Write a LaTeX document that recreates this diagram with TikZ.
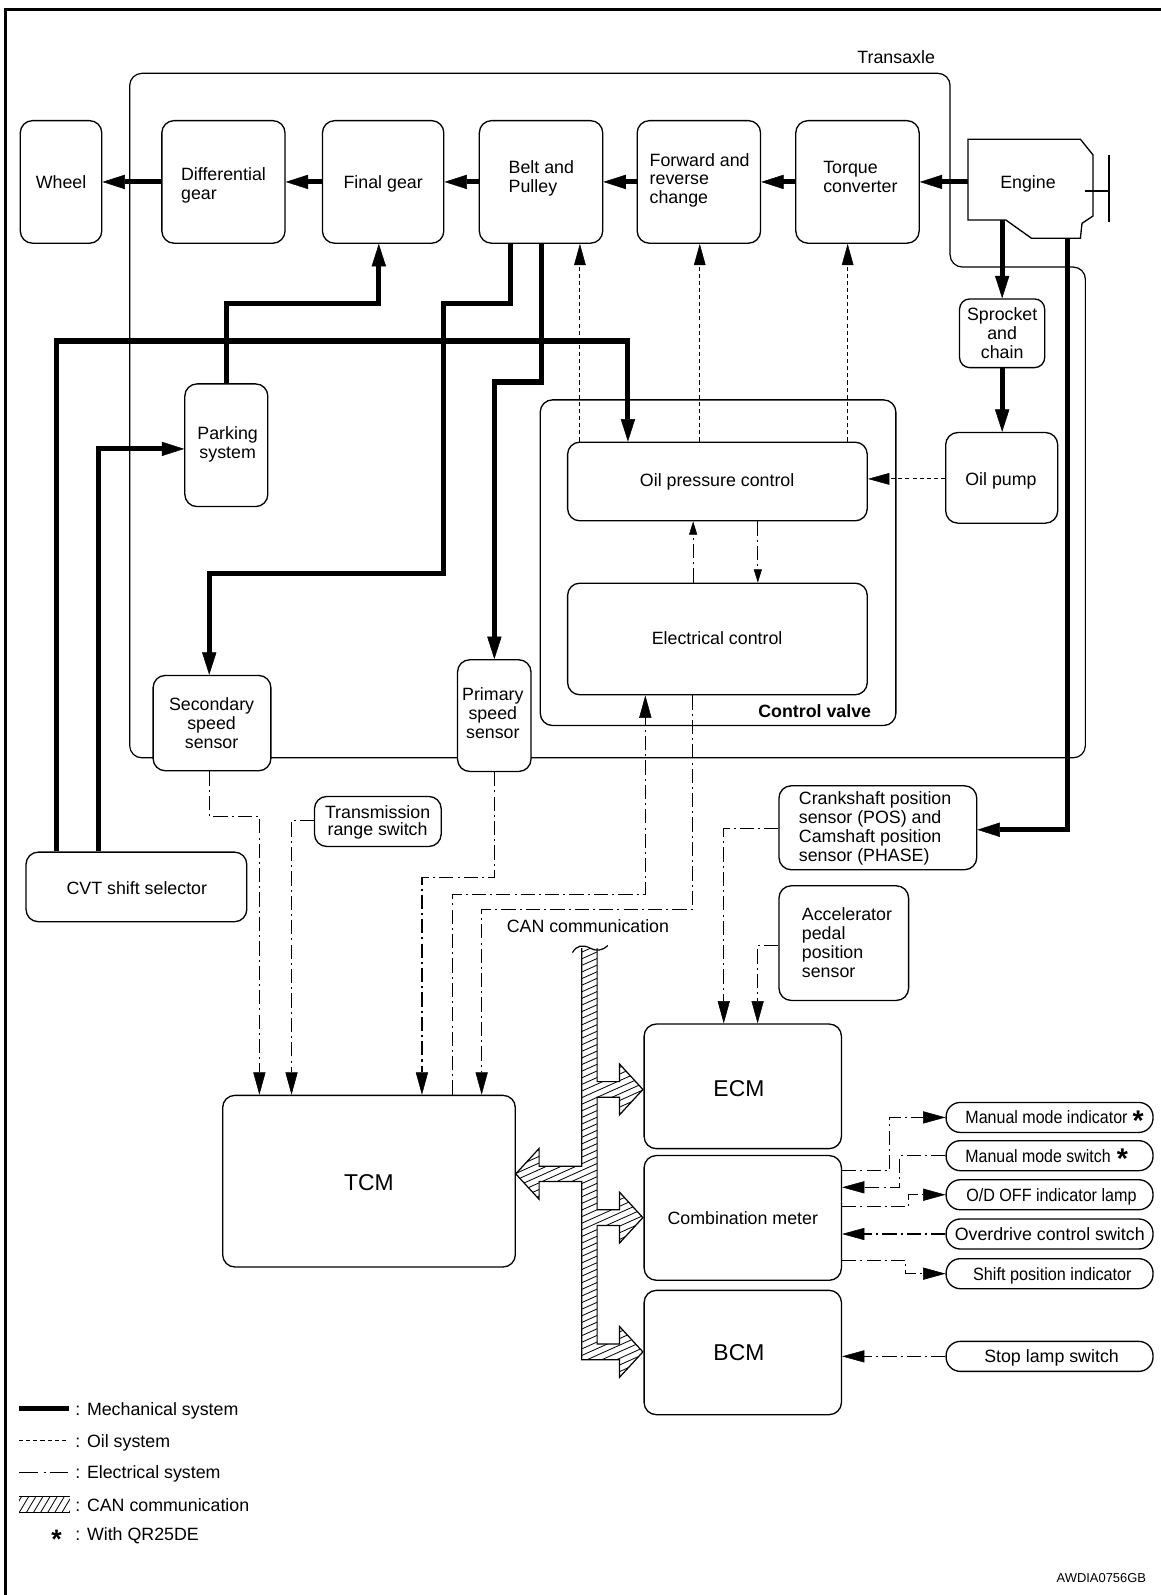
\documentclass[tikz,border=0pt]{standalone}
\usepackage{fontspec}
\usepackage{graphicx}
\setmainfont{Liberation Sans}
\usetikzlibrary{arrows.meta}
\newcommand{\qrstar}[2]{\raisebox{#1}{\scalebox{#2}{\textbf{*}}}}
\begin{document}
\begin{tikzpicture}[x=1pt,y=-1pt,
  box/.style={draw, fill=white, line width=1.3pt, rounded corners=12pt, inner sep=0pt},
  pill/.style={draw, fill=white, line width=1.3pt, rounded corners=14pt, inner sep=0pt,
    minimum width=203.4pt, minimum height=29.5pt},
  txt/.style={inner sep=0pt, font=\fontsize{17.5}{18.5}\selectfont, align=center},
  ltxt/.style={txt, align=left},
  one/.style={inner sep=0pt, font=\fontsize{17.5}{18.5}\selectfont, text height=12.6pt, text depth=0pt},
  big/.style={inner sep=0pt, font=\fontsize{22.5}{26}\selectfont, text height=16.1pt, text depth=0pt},
  mech/.style={line width=5pt, -{Triangle[length=22pt,width=14pt,line width=0.5pt]}},
  thinline/.style={line width=1.2pt},
  oil/.style={line width=1pt, dash pattern=on 4pt off 3pt, -{Triangle[length=21pt,width=11.5pt,line width=0.5pt]}},
  elec/.style={line width=1.2pt, dash pattern=on 14pt off 4pt on 2pt off 4pt, -{Triangle[length=22pt,width=12pt,line width=0.5pt]}},
  small/.style={line width=1.2pt, dash pattern=on 14pt off 4pt on 2pt off 4pt, -{Triangle[length=13pt,width=8pt,line width=0.5pt]}},
  hatch/.style={line width=0.8pt},
]
\useasboundingbox (0,0) rectangle (1141,1568);

% page frame
\draw[line width=3pt] (5.3,1568) -- (5.3,9.2) -- (1141,9.2);

% transaxle outline
\draw[thinline, rounded corners=12pt] (127.5,745) -- (127.5,72.1) -- (934,72.1) -- (934,262.5) -- (1067,262.5) -- (1067,745) -- cycle;
\node[one] (transaxle) at (881,56.3) {Transaxle};

% power train row
\node[box, minimum width=80.1pt, minimum height=120.5pt] (wheel) at (60,178.85) {};
\node[box, minimum width=121.1pt, minimum height=120.5pt] (diff) at (219.65,178.85) {};
\node[box, minimum width=119.3pt, minimum height=120.5pt] (final) at (376.65,178.85) {};
\node[box, minimum width=121.3pt, minimum height=120.5pt] (belt) at (531.85,178.85) {};
\node[box, minimum width=121.3pt, minimum height=120.5pt] (fwd) at (687.05,178.85) {};
\node[box, minimum width=121.3pt, minimum height=120.5pt] (torque) at (842.95,178.85) {};
\node[one] (wheel-t) at (60,178.6) {Wheel};
\node[ltxt] (diff-t) at (219.7,182.1) {Differential\\gear};
\node[one] (final-t) at (376.7,178.6) {Final gear};
\node[ltxt] (belt-t) at (532.2,175) {Belt and\\Pulley};
\node[ltxt] (fwd-t) at (687.8,177.3) {Forward and\\reverse\\change};
\node[ltxt] (torque-t) at (845.8,174) {Torque\\converter};

% engine
\draw[line width=1.3pt] (951.6,136.9) -- (1062.1,136.9) -- (1074.5,152.3) -- (1074.5,212.3) -- (1063.7,219.5) -- (1062.1,234.2) -- (1014,234.2) -- (988.7,216.2) -- (951.6,216.2) -- cycle;
\draw[line width=1.3pt] (1066.3,187.7) -- (1090.2,187.7) (1090.2,152.3) -- (1090.2,217.9);
\node[one] (engine) at (1010.6,178.6) {Engine};
\coordinate (engW) at (951.6,178.85);
\coordinate (engS1) at (985.2,216.2);
\coordinate (engS2) at (1049.4,234.2);

% transaxle internals
\node[box, rounded corners=10pt, minimum width=83.7pt, minimum height=67.5pt] (spr) at (985.15,327.65) {};
\node[txt] (spr-t) at (985.2,327.6) {Sprocket\\and\\chain};
\node[box, minimum width=110.1pt, minimum height=89.1pt] (pump) at (984.75,469.75) {};
\node[one] (pump-t) at (984,470.8) {Oil pump};
\node[box, minimum width=349.6pt, minimum height=320.1pt] (cv) at (705.9,553.15) {};
\node[one, font=\bfseries\fontsize{17.5}{18.5}\selectfont, anchor=east] (cv-t) at (856.6,699.4) {Control valve};
\node[box, minimum width=294.6pt, minimum height=77.3pt] (opc) at (705.3,473.35) {};
\node[one] (opc-t) at (705,472.4) {Oil pressure control};
\node[box, minimum width=294.6pt, minimum height=109.7pt] (ec) at (705.3,628.15) {};
\node[one] (ec-t) at (705,627.4) {Electrical control};
\node[box, minimum width=81.6pt, minimum height=120.6pt] (park) at (222.5,437.7) {};
\node[txt] (park-t) at (223.8,436.9) {Parking\\system};
\node[box, minimum width=115.8pt, minimum height=93.7pt] (sec) at (208.4,710.85) {};
\node[txt] (sec-t) at (208,711) {Secondary\\speed\\sensor};
\node[box, minimum width=72.2pt, minimum height=109.8pt] (pri) at (485.9,703.5) {};
\node[txt] (pri-t) at (484.5,701.3) {Primary\\speed\\sensor};

% sensors and switches outside the transaxle
\node[box, minimum width=124.5pt, minimum height=49.1pt] (trs) at (371.45,807.55) {};
\node[txt, font=\fontsize{17.5}{16.8}\selectfont] (trs-t) at (371.2,808.3) {Transmission\\range switch};
\node[box, minimum width=217pt, minimum height=68.4pt] (cvt) at (134.1,871.9) {};
\node[one] (cvt-t) at (134.5,873) {CVT shift selector};
\node[box, minimum width=194.4pt, minimum height=82.5pt] (crank) at (863,813.75) {};
\node[ltxt] (crank-t) at (860.3,814.5) {Crankshaft position\\sensor (POS) and\\Camshaft position\\sensor (PHASE)};
\node[box, minimum width=127.4pt, minimum height=112.7pt] (accel) at (829.5,927.15) {};
\node[ltxt] (accel-t) at (832.6,926.8) {Accelerator\\pedal\\position\\sensor};

% control units
\node[box, minimum width=287.7pt, minimum height=168.7pt] (tcm) at (362.75,1161.15) {};
\node[big] (tcm-t) at (362.6,1162.3) {TCM};
\node[box, minimum width=194pt, minimum height=122.5pt] (ecm) at (730.2,1067.95) {};
\node[big] (ecm-t) at (726.4,1069.6) {ECM};
\node[box, minimum width=194pt, minimum height=122.6pt] (cm) at (730.2,1197.3) {};
\node[one] (cm-t) at (730.2,1197.4) {Combination meter};
\node[box, minimum width=194pt, minimum height=122.2pt] (bcm) at (730.2,1329.6) {};
\node[big] (bcm-t) at (726.4,1329.4) {BCM};

% meter and body peripherals
\node[pill] (mmi) at (1031.8,1098.5) {};
\node[pill] (mms) at (1031.8,1136.1) {};
\node[pill] (odl) at (1031.8,1174.5) {};
\node[pill] (ocs) at (1031.8,1213.1) {};
\node[pill] (spi) at (1031.8,1252.1) {};
\node[pill] (sls) at (1031.8,1333.4) {};
\node[one, anchor=west] (mmi-t) at (948.9,1098.5) {\scalebox{0.9}[1]{Manual mode indicator}\hspace{5pt}\qrstar{-6.5pt}{1.6}};
\node[one, anchor=west] (mms-t) at (948.9,1136.1) {\scalebox{0.895}[1]{Manual mode switch}\hspace{6pt}\qrstar{-6.5pt}{1.6}};
\node[one, anchor=west] (odl-t) at (949.7,1174.5) {\scalebox{0.906}[1]{O/D OFF indicator lamp}};
\node[one, anchor=west] (ocs-t) at (938.4,1213.1) {Overdrive control switch};
\node[one, anchor=west] (spi-t) at (956.5,1252.1) {\scalebox{0.91}[1]{Shift position indicator}};
\node[one, anchor=west] (sls-t) at (967.4,1333.4) {Stop lamp switch};

% CAN bus
\node[one] (can-t) at (578,910.7) {CAN communication};
\begin{scope}
\clip (587,932) -- (587,1063.3) -- (609,1063.3) -- (609,1046) -- (632,1071) -- (609,1096) -- (609,1078.7) -- (587,1078.7) -- (587,1189.3) -- (609,1189.3) -- (609,1172) -- (632,1197) -- (609,1222) -- (609,1204.7) -- (587,1204.7) -- (587,1321.3) -- (609,1321.3) -- (609,1304) -- (632,1329) -- (609,1354) -- (609,1336.7) -- (572,1336.7) -- (572,1161.5) -- (530,1161.5) -- (530,1179) -- (507,1154) -- (530,1129) -- (530,1146.5) -- (572,1146.5) -- (572,932) -- cycle;
\foreach \k in {0,...,80} \draw[hatch] (495,{925+\k*6.5}) -- ++(145,-65);
\end{scope}
\draw[thinline] (587,932) -- (587,1063.3) -- (609,1063.3) -- (609,1046) -- (632,1071) -- (609,1096) -- (609,1078.7) -- (587,1078.7) -- (587,1189.3) -- (609,1189.3) -- (609,1172) -- (632,1197) -- (609,1222) -- (609,1204.7) -- (587,1204.7) -- (587,1321.3) -- (609,1321.3) -- (609,1304) -- (632,1329) -- (609,1354) -- (609,1336.7) -- (572,1336.7) -- (572,1161.5) -- (530,1161.5) -- (530,1179) -- (507,1154) -- (530,1129) -- (530,1146.5) -- (572,1146.5) -- (572,932);
\draw[thinline] (562.8,936.5) .. controls (567,929) and (573,928.5) .. (580,932) .. controls (587,935.5) and (592,934.5) .. (597.5,929.5);

% mechanical system
\draw[mech] (engW) -- (torque.east);
\draw[mech] (torque.west) -- (fwd.east);
\draw[mech] (fwd.west) -- (belt.east);
\draw[mech] (belt.west) -- (final.east);
\draw[mech] (final.west) -- (diff.east);
\draw[mech] (diff.west) -- (wheel.east);
\draw[mech] (engS1) -- (spr.north -| engS1);
\draw[mech] (spr.south -| engS1) -- (pump.north -| engS1);
\draw[mech] (engS2) |- (crank.east |- 0,815.7);
\draw[mech] (cvt.north -| 55.7,0) |- (617.3,335.2) -- (opc.north -| 617.3,0);
\draw[mech] (cvt.north -| 97,0) |- (park.west |- 0,441.3);
\draw[mech] (park.north -| 223,0) |- (372.4,298) -- (final.south -| 372.4,0);
\draw[mech] (belt.south -| 502,0) |- (436.3,298) |- (205.7,563.5) -- (sec.north -| 205.7,0);
\draw[mech] (belt.south -| 532,0) |- (486,375.5) -- (pri.north -| 486,0);

% oil system
\draw[oil] (opc.north -| 570.1,0) -- (belt.south -| 570.1,0);
\draw[oil] (opc.north -| 687.9,0) -- (fwd.south -| 687.9,0);
\draw[oil] (opc.north -| 833.3,0) -- (torque.south -| 833.3,0);
\draw[oil] (pump.west |- 0,470.8) -- (opc.east |- 0,470.8);

% electrical system
\draw[small] (ec.north -| 681.4,0) -- (opc.south -| 681.4,0);
\draw[small] (opc.south -| 745,0) -- (ec.north -| 745,0);
\draw[elec] (sec.south -| 206,0) |- (255,802.6) -- (tcm.north -| 255,0);
\draw[elec] (trs.west |- 0,806.5) -| (tcm.north -| 286.6,0);
\draw[elec] (pri.south -| 486.3,0) |- (414.8,862.5) -- (tcm.north -| 414.8,0);
\draw[elec] (tcm.north -| 445,0) |- (634.4,879) -- (ec.south -| 634.4,0);
\draw[elec] (ec.south -| 680.6,0) |- (473.5,894) -- (tcm.north -| 473.5,0);
\draw[elec] (crank.west |- 0,814.7) -| (ecm.north -| 711.5,0);
\draw[elec] (accel.west |- 0,929.7) -| (ecm.north -| 744.8,0);
\draw[elec] (cm.east |- 0,1150.9) -| (874.3,1098.5) -- (mmi.west);
\draw[elec] (mms.west) -| (884.5,1167.2) -- (cm.east |- 0,1167.2);
\draw[elec] (cm.east |- 0,1185.9) -| (893.2,1174.5) -- (odl.west);
\draw[elec] (ocs.west) -- (cm.east |- ocs.west);
\draw[elec] (cm.east |- 0,1239) -| (890.5,1252.1) -- (spi.west);
\draw[elec] (sls.west) -- (bcm.east |- sls.west);

% legend
\draw[line width=5pt] (18.8,1384.8) -- (67.7,1384.8);
\node[one, anchor=west] (lg-mech) at (74,1384.8) {: Mechanical system};
\draw[line width=1pt, dash pattern=on 4pt off 3pt] (18.8,1416.2) -- (67,1416.2);
\node[one, anchor=west] (lg-oil) at (74,1416.2) {: Oil system};
\draw[thinline] (18.8,1447.3) -- (37.6,1447.3) (43.3,1447.3) -- (45.2,1447.3) (48.9,1447.3) -- (67,1447.3);
\node[one, anchor=west] (lg-elec) at (74,1447.3) {: Electrical system};
\begin{scope}
\clip (18.8,1471.6) rectangle (68.8,1486.7);
\foreach \k in {0,...,8} \draw[hatch] ({12+\k*7},1486.7) -- ++(9,-15.1);
\end{scope}
\draw[line width=1pt] (18.8,1471.6) -- (68.8,1471.6) (18.8,1486.7) -- (68.8,1486.7);
\node[one, anchor=west] (lg-can) at (74,1479.2) {: CAN communication};
\node[one] (lg-star) at (55.7,1508) {\qrstar{-8.4pt}{1.5}};
\node[one, anchor=west] (lg-qr) at (74,1508) {: With QR25DE};

\node[inner sep=0pt, font=\fontsize{12.7}{14}\selectfont, text height=9.1pt, text depth=0pt] (code) at (1082.7,1551) {AWDIA0756GB};
\end{tikzpicture}
\end{document}
